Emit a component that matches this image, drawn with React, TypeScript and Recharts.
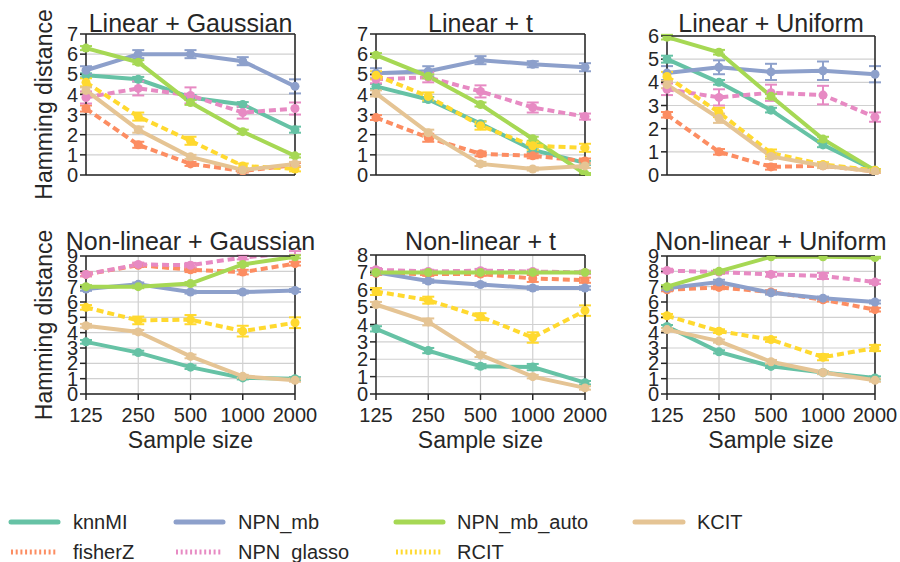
import React from "react"
import { LineChart, Line, XAxis, YAxis, CartesianGrid, ErrorBar } from "recharts"

const sampleSizes = ["125", "250", "500", "1000", "2000"]
const methods = ["knnMI", "fisherZ", "NPN_mb", "NPN_glasso", "NPN_mb_auto", "RCIT", "KCIT"]

const colors: Record<string, string> = {
  knnMI: "#66c2a5",
  fisherZ: "#fc8d62",
  NPN_mb: "#8da0cb",
  NPN_glasso: "#e78ac3",
  NPN_mb_auto: "#a6d854",
  RCIT: "#ffd92f",
  KCIT: "#e5c494",
}
const dashed = ["fisherZ", "NPN_glasso", "RCIT"]

// mean Hamming distance per method, one value per sample size
const linGaussMean = {
  knnMI: [4.95, 4.75, 3.85, 3.5, 2.25],
  fisherZ: [3.3, 1.5, 0.55, 0.2, 0.5],
  NPN_mb: [5.2, 6.0, 6.0, 5.65, 4.4],
  NPN_glasso: [3.85, 4.3, 3.95, 3.1, 3.3],
  NPN_mb_auto: [6.3, 5.6, 3.6, 2.15, 0.95],
  RCIT: [4.6, 2.9, 1.7, 0.45, 0.3],
  KCIT: [4.2, 2.25, 0.9, 0.25, 0.55],
}
const linGaussErr = {
  knnMI: [0.1, 0.12, 0.12, 0.12, 0.15],
  fisherZ: [0.15, 0.15, 0.1, 0.08, 0.1],
  NPN_mb: [0.2, 0.2, 0.2, 0.2, 0.35],
  NPN_glasso: [0.3, 0.35, 0.4, 0.3, 0.3],
  NPN_mb_auto: [0.1, 0.1, 0.12, 0.1, 0.08],
  RCIT: [0.2, 0.2, 0.2, 0.12, 0.12],
  KCIT: [0.15, 0.15, 0.1, 0.08, 0.1],
}

const linTMean = {
  knnMI: [4.4, 3.75, 2.55, 1.25, 0.6],
  fisherZ: [2.85, 1.85, 1.05, 0.95, 0.7],
  NPN_mb: [5.05, 5.15, 5.7, 5.5, 5.35],
  NPN_glasso: [4.75, 4.85, 4.15, 3.35, 2.9],
  NPN_mb_auto: [5.95, 4.9, 3.5, 1.8, 0.05],
  RCIT: [4.95, 3.9, 2.45, 1.45, 1.35],
  KCIT: [4.05, 2.1, 0.55, 0.3, 0.45],
}
const linTErr = {
  knnMI: [0.12, 0.12, 0.12, 0.1, 0.1],
  fisherZ: [0.12, 0.2, 0.12, 0.12, 0.12],
  NPN_mb: [0.25, 0.25, 0.2, 0.15, 0.2],
  NPN_glasso: [0.2, 0.25, 0.3, 0.25, 0.15],
  NPN_mb_auto: [0.1, 0.1, 0.1, 0.1, 0.05],
  RCIT: [0.2, 0.2, 0.2, 0.2, 0.2],
  KCIT: [0.15, 0.15, 0.1, 0.08, 0.1],
}

const linUnifMean = {
  knnMI: [5.0, 4.0, 2.8, 1.3, 0.2],
  fisherZ: [2.6, 1.0, 0.35, 0.4, 0.15],
  NPN_mb: [4.4, 4.65, 4.45, 4.5, 4.35],
  NPN_glasso: [3.7, 3.35, 3.55, 3.45, 2.5],
  NPN_mb_auto: [5.95, 5.3, 3.4, 1.55, 0.2],
  RCIT: [4.25, 2.7, 0.95, 0.45, 0.2],
  KCIT: [3.9, 2.45, 0.8, 0.4, 0.15],
}
const linUnifErr = {
  knnMI: [0.15, 0.1, 0.1, 0.1, 0.05],
  fisherZ: [0.12, 0.12, 0.12, 0.1, 0.05],
  NPN_mb: [0.3, 0.3, 0.35, 0.4, 0.35],
  NPN_glasso: [0.25, 0.35, 0.35, 0.4, 0.2],
  NPN_mb_auto: [0.1, 0.1, 0.1, 0.1, 0.05],
  RCIT: [0.2, 0.2, 0.15, 0.1, 0.05],
  KCIT: [0.15, 0.2, 0.1, 0.1, 0.05],
}

const nlGaussMean = {
  knnMI: [3.4, 2.7, 1.75, 1.05, 1.0],
  fisherZ: [7.8, 8.4, 8.1, 7.95, 8.5],
  NPN_mb: [6.85, 7.15, 6.65, 6.65, 6.75],
  NPN_glasso: [7.8, 8.45, 8.4, 8.9, 9.2],
  NPN_mb_auto: [7.0, 7.0, 7.2, 8.45, 8.95],
  RCIT: [5.65, 4.8, 4.85, 4.1, 4.65],
  KCIT: [4.45, 4.05, 2.45, 1.15, 0.9],
}
const nlGaussErr = {
  knnMI: [0.12, 0.12, 0.12, 0.1, 0.1],
  fisherZ: [0.12, 0.12, 0.15, 0.15, 0.12],
  NPN_mb: [0.12, 0.12, 0.1, 0.1, 0.1],
  NPN_glasso: [0.12, 0.12, 0.15, 0.12, 0.12],
  NPN_mb_auto: [0.1, 0.1, 0.1, 0.1, 0.1],
  RCIT: [0.15, 0.25, 0.3, 0.35, 0.35],
  KCIT: [0.12, 0.12, 0.12, 0.1, 0.1],
}

const nlTMean = {
  knnMI: [3.75, 2.5, 1.6, 1.55, 0.65],
  fisherZ: [6.95, 6.9, 6.9, 6.65, 6.55],
  NPN_mb: [7.0, 6.5, 6.3, 6.1, 6.1],
  NPN_glasso: [7.15, 7.05, 7.1, 7.05, 7.0],
  NPN_mb_auto: [7.0, 7.0, 7.0, 7.0, 7.0],
  RCIT: [5.9, 5.4, 4.45, 3.25, 4.8],
  KCIT: [5.15, 4.15, 2.25, 1.0, 0.35],
}
const nlTErr = {
  knnMI: [0.15, 0.15, 0.12, 0.18, 0.1],
  fisherZ: [0.1, 0.1, 0.1, 0.2, 0.15],
  NPN_mb: [0.1, 0.1, 0.1, 0.1, 0.1],
  NPN_glasso: [0.1, 0.1, 0.1, 0.1, 0.1],
  NPN_mb_auto: [0.05, 0.05, 0.05, 0.05, 0.05],
  RCIT: [0.2, 0.2, 0.2, 0.3, 0.3],
  KCIT: [0.15, 0.2, 0.12, 0.1, 0.1],
}

const nlUnifMean = {
  knnMI: [4.4, 2.75, 1.8, 1.4, 1.05],
  fisherZ: [6.8, 6.95, 6.65, 6.15, 5.5],
  NPN_mb: [6.9, 7.3, 6.6, 6.25, 6.0],
  NPN_glasso: [8.05, 7.95, 7.8, 7.7, 7.3],
  NPN_mb_auto: [7.0, 8.0, 8.95, 8.95, 8.9],
  RCIT: [5.1, 4.1, 3.55, 2.4, 3.0],
  KCIT: [4.2, 3.45, 2.1, 1.4, 0.9],
}
const nlUnifErr = {
  knnMI: [0.1, 0.1, 0.1, 0.1, 0.1],
  fisherZ: [0.1, 0.12, 0.12, 0.12, 0.12],
  NPN_mb: [0.12, 0.15, 0.12, 0.1, 0.1],
  NPN_glasso: [0.12, 0.12, 0.15, 0.2, 0.12],
  NPN_mb_auto: [0.1, 0.1, 0.05, 0.05, 0.05],
  RCIT: [0.12, 0.12, 0.15, 0.2, 0.2],
  KCIT: [0.1, 0.1, 0.12, 0.1, 0.1],
}

const ticks6 = [0, 1, 2, 3, 4, 5, 6]
const ticks7 = [0, 1, 2, 3, 4, 5, 6, 7]
const ticks8 = [0, 1, 2, 3, 4, 5, 6, 7, 8]
const ticks9 = [0, 1, 2, 3, 4, 5, 6, 7, 8, 9]

const W = 900
const H = 562
const INK = "#262626"
// space reserved for each axis inside the chart
const LEFT_W = 40
const RIGHT_W = 10
const TOP_H = 10
const BOTTOM_H = 30

const panels = [
  { title: "Linear + Gaussian", mean: linGaussMean, err: linGaussErr, ticks: ticks7, box: { left: 86, right: 295, top: 34, bottom: 175 }, bottomRow: false },
  { title: "Linear + t", mean: linTMean, err: linTErr, ticks: ticks7, box: { left: 376, right: 585, top: 34, bottom: 175 }, bottomRow: false },
  { title: "Linear + Uniform", mean: linUnifMean, err: linUnifErr, ticks: ticks6, box: { left: 667, right: 875, top: 36, bottom: 175 }, bottomRow: false },
  { title: "Non-linear + Gaussian", mean: nlGaussMean, err: nlGaussErr, ticks: ticks9, box: { left: 86, right: 295, top: 256, bottom: 394 }, bottomRow: true },
  { title: "Non-linear + t", mean: nlTMean, err: nlTErr, ticks: ticks8, box: { left: 376, right: 585, top: 255, bottom: 394 }, bottomRow: true },
  { title: "Non-linear + Uniform", mean: nlUnifMean, err: nlUnifErr, ticks: ticks9, box: { left: 667, right: 875, top: 256, bottom: 394 }, bottomRow: true },
]

function Panel({ p }: { p: any }) {
  const data = sampleSizes.map((n, i) => {
    const row: any = { n }
    methods.forEach((m) => {
      row[m] = p.mean[m][i]
      row[m + "_err"] = p.err[m][i]
    })
    return row
  })
  const yMax = p.ticks[p.ticks.length - 1]
  const { left, right, top, bottom } = p.box
  const axisProps = { stroke: INK, strokeWidth: 1.5 }
  const tickLine = { stroke: INK, strokeWidth: 1.5 }

  return (
    <div style={{ position: "absolute", left: 0, top: 0 }}>
      <LineChart
        width={W}
        height={H}
        data={data}
        margin={{ top: top - TOP_H, left: left - LEFT_W, right: W - right - RIGHT_W, bottom: H - bottom - BOTTOM_H }}
      >
        <CartesianGrid stroke="#d0d0d0" strokeWidth={1.2} />
        <XAxis
          dataKey="n"
          type="category"
          scale="point"
          padding={{ left: 0, right: 0 }}
          height={BOTTOM_H}
          axisLine={axisProps}
          tickLine={tickLine}
          tickSize={6}
          tickMargin={8}
          interval={0}
          tick={p.bottomRow ? { fontSize: 20, fill: INK } : false}
        />
        <XAxis
          xAxisId="top"
          orientation="top"
          dataKey="n"
          type="category"
          scale="point"
          padding={{ left: 0, right: 0 }}
          height={TOP_H}
          axisLine={axisProps}
          tickLine={tickLine}
          tickSize={6}
          interval={0}
          tick={false}
        />
        <YAxis
          type="number"
          domain={[0, yMax]}
          ticks={p.ticks}
          allowDataOverflow
          interval={0}
          width={LEFT_W}
          axisLine={axisProps}
          tickLine={tickLine}
          tickSize={6}
          tickMargin={2}
          tick={{ fontSize: 20, fill: INK }}
        />
        <YAxis
          yAxisId="right"
          orientation="right"
          type="number"
          domain={[0, yMax]}
          ticks={p.ticks}
          allowDataOverflow
          interval={0}
          width={RIGHT_W}
          axisLine={axisProps}
          tickLine={tickLine}
          tickSize={6}
          tick={false}
        />
        {methods.map((m) => (
          <Line
            key={m}
            type="linear"
            dataKey={m}
            stroke={colors[m]}
            strokeWidth={4}
            strokeDasharray={dashed.includes(m) ? "7 4" : undefined}
            dot={{ r: 4.5, fill: colors[m], stroke: "none" }}
            isAnimationActive={false}
          >
            <ErrorBar dataKey={m + "_err"} width={6} strokeWidth={2} stroke={colors[m]} direction="y" />
          </Line>
        ))}
      </LineChart>
    </div>
  )
}

const legendCols = [
  { line: [11, 58], text: 73 },
  { line: [176, 223], text: 238 },
  { line: [396, 443], text: 457 },
  { line: [635, 683], text: 697 },
]
const legendRows = [522, 552]

function Overlay() {
  return (
    <svg width={W} height={H} style={{ position: "absolute", left: 0, top: 0 }}>
      {panels.map((p) => {
        const cx = (p.box.left + p.box.right) / 2
        const cy = (p.box.top + p.box.bottom) / 2
        return (
          <g key={p.title}>
            <text x={cx} y={p.bottomRow ? 250 : 31.5} textAnchor="middle" fontSize={25} fill={INK}>
              {p.title}
            </text>
            {p.box.left < 100 && (
              <text x={52} y={cy} textAnchor="middle" fontSize={23} fill={INK} transform={`rotate(-90 52 ${cy})`}>
                Hamming distance
              </text>
            )}
            {p.bottomRow && (
              <text x={cx} y={448} textAnchor="middle" fontSize={23} fill={INK}>
                Sample size
              </text>
            )}
          </g>
        )
      })}
      {methods.map((m, i) => {
        const col = legendCols[Math.floor(i / 2)]
        const y = legendRows[i % 2]
        const isDashed = dashed.includes(m)
        return (
          <g key={m}>
            <line
              x1={col.line[0]}
              x2={col.line[1]}
              y1={y}
              y2={y}
              stroke={colors[m]}
              strokeWidth={5}
              strokeLinecap={isDashed ? "butt" : "round"}
              strokeDasharray={isDashed ? "2 2.7" : undefined}
            />
            <text x={col.text} y={y + 7} fontSize={20} fill={INK}>
              {m}
            </text>
          </g>
        )
      })}
    </svg>
  )
}

export default function App() {
  return (
    <div
      style={{
        position: "absolute",
        left: 0,
        top: 0,
        width: W,
        height: H,
        background: "#fff",
        fontFamily: "'Liberation Sans', Arial, sans-serif",
      }}
    >
      {panels.map((p) => (
        <Panel key={p.title} p={p} />
      ))}
      <Overlay />
    </div>
  )
}
